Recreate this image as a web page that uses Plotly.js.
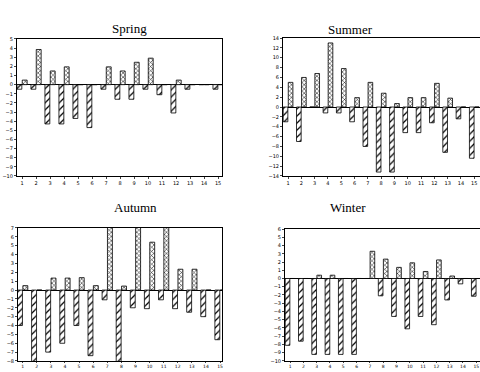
<!DOCTYPE html>
<html>
<head>
<meta charset="utf-8">
<script src="https://cdn.plot.ly/plotly-3.0.1.min.js"></script>
<style>html,body{margin:0;padding:0;background:#fff;}#chart{width:480px;height:372px;}</style>
</head>
<body>
<div id="chart"></div>
<script>
var categories = [1,2,3,4,5,6,7,8,9,10,11,12,13,14,15];
var springA = [-0.5,-0.5,-4.3,-4.3,-3.7,-4.7,-0.5,-1.6,-1.6,-0.5,-1.1,-3.1,-0.5,0,-0.5];
var springB = [0.5,3.85,1.5,1.95,0,0,1.95,1.5,2.45,2.9,0,0.5,0,0,0];
var summerA = [-3,-7,0,-1.2,-1.2,-3,-8,-13.2,-13.2,-5.2,-5.2,-3.2,-9.2,-2.4,-10.4];
var summerB = [5,6,6.8,13,7.8,1.9,5,2.8,0.7,1.9,1.9,4.8,1.8,0,0];
var autumnA = [-4,-8.3,-7,-6,-4,-7.4,-1.1,-8.2,-2,-2.1,-1.1,-2.1,-2.5,-3,-5.6];
var autumnB = [0.5,0,1.35,1.35,1.4,0.5,7.5,0.45,7.5,5.4,7.5,2.35,2.35,0,0];
var winterA = [-8.1,-7.6,-9.2,-9.2,-9.2,-9.2,0,-2.1,-4.6,-6.1,-4.6,-5.6,-2.6,-0.65,-2.15];
var winterB = [0,0,0.4,0.4,0,0,3.3,2.35,1.35,1.9,0.85,2.25,0.3,0,0];
var panelTitles = ['Spring','Summer','Autumn','Winter'];

function barA(y, xa, ya){
  return {type:'bar', x:categories, y:y, xaxis:xa, yaxis:ya,
    marker:{color:'#fff', line:{color:'#000', width:0.8},
      pattern:{shape:'/', size:5, solidity:0.25, fgcolor:'#000', bgcolor:'#fff'}}};
}
function barB(y, xa, ya){
  return {type:'bar', x:categories, y:y, xaxis:xa, yaxis:ya,
    marker:{color:'#fff', line:{color:'#000', width:0.8},
      pattern:{shape:'x', size:3, solidity:0.3, fgcolor:'#000', bgcolor:'#fff'}}};
}
var data = [
  barA(springA,'x','y'), barB(springB,'x','y'),
  barA(summerA,'x2','y2'), barB(summerB,'x2','y2'),
  barA(autumnA,'x3','y3'), barB(autumnB,'x3','y3'),
  barA(winterA,'x4','y4'), barB(winterB,'x4','y4')
];
function xax(domain, range){
  return {domain:domain, range:range, tickvals:categories, ticks:'outside', ticklen:2,
    tickfont:{size:5, family:'DejaVu Sans', color:'#000'}, showline:true, mirror:true,
    linecolor:'#000', linewidth:1, showgrid:false, zeroline:false, fixedrange:true};
}
function yax(domain, range, dtick){
  return {domain:domain, range:range, dtick:dtick, ticks:'outside', ticklen:2,
    tickfont:{size:5, family:'DejaVu Sans', color:'#000'}, showline:true, mirror:true,
    linecolor:'#000', linewidth:1, showgrid:false, zeroline:true, zerolinecolor:'#000',
    zerolinewidth:1, fixedrange:true};
}
var tfont = {family:'Liberation Serif', size:13, color:'#000'};
var layout = {
  width:480, height:372, margin:{l:0,r:0,t:0,b:0}, showlegend:false,
  paper_bgcolor:'#fff', plot_bgcolor:'#fff', barmode:'group', bargap:0.24, bargroupgap:0.08,
  xaxis: xax([0.0354,0.4625],[0.64,15.28]),
  yaxis: yax([0.5269,0.8952],[-10,5],1),
  xaxis2: Object.assign(xax([0.5896,1],[0.62,15.43]),{anchor:'y2'}),
  yaxis2: Object.assign(yax([0.5269,0.8978],[-14,14],2),{anchor:'x2'}),
  xaxis3: Object.assign(xax([0.0375,0.4625],[0.67,15.14]),{anchor:'y3', ticklen:1, tickfont:{size:4.5, family:'DejaVu Sans', color:'#000'}}),
  yaxis3: Object.assign(yax([0.0296,0.3871],[-8,7],1),{anchor:'x3'}),
  xaxis4: Object.assign(xax([0.5938,1],[0.62,15.28]),{anchor:'y4', ticklen:1, tickfont:{size:4.5, family:'DejaVu Sans', color:'#000'}}),
  yaxis4: Object.assign(yax([0.0296,0.3844],[-10,6],1),{anchor:'x4'}),
  annotations:[
    {text:panelTitles[0], x:110/480, y:1-19/372, xref:'paper', yref:'paper', showarrow:false, font:tfont},
    {text:panelTitles[1], x:375/480, y:1-20/372, xref:'paper', yref:'paper', showarrow:false, font:tfont},
    {text:panelTitles[2], x:112/480, y:1-208/372, xref:'paper', yref:'paper', showarrow:false, font:tfont},
    {text:panelTitles[3], x:368/480, y:1-208/372, xref:'paper', yref:'paper', showarrow:false, font:tfont}
  ]
};
layout.xaxis.anchor='y'; layout.yaxis.anchor='x';
Plotly.newPlot('chart', data, layout, {staticPlot:true, displayModeBar:false});
</script>
</body>
</html>
